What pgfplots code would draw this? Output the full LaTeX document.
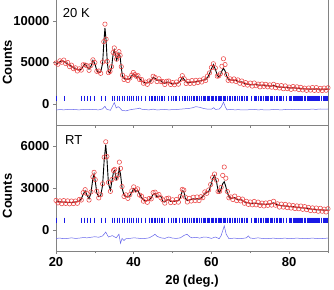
\documentclass[border=0pt]{standalone}
\usepackage{fontspec}
\setmainfont{Liberation Sans}
\usepackage{pgfplots}
\usepackage{pgfplotstable}
\pgfplotsset{compat=1.18}
\definecolor{obsred}{RGB}{235,70,70}
\definecolor{diffblue}{RGB}{100,100,235}
\definecolor{braggblue}{RGB}{25,25,230}
\definecolor{spine}{RGB}{130,130,130}

\pgfplotstableread{
x obs calc
20.0 4940 4780
20.5 4790 4930
21.0 5200 5100
21.5 5030 5200
22.0 5290 5150
22.5 4870 4980
23.0 5000 4820
23.5 4510 4660
24.0 4680 4520
24.5 4260 4400
25.0 4360 4260
25.5 3980 4150
26.0 4240 4100
26.5 4090 4200
27.0 4730 4550
27.5 4700 4850
28.0 4610 4450
28.5 4060 4200
29.0 4650 4550
29.5 5320 5250
30.0 4990 4850
30.5 3940 4050
31.0 3980 3800
31.5 3700 3850
32.0 5060 4900
32.3 7500 7300
32.6 9600 9150
32.9 7800 7600
33.2 5140 5000
33.5 3790 3900
33.9 3930 3750
34.3 4500 4400
34.7 6200 6000
35.0 6750 6500
35.3 6050 5900
35.6 5400 5300
35.9 5850 5700
36.2 6300 6150
36.5 5850 5700
36.8 4500 4400
37.1 3490 3350
37.5 2960 3100
38.0 3160 3000
38.5 2840 2980
39.0 3150 3050
39.5 3500 3400
39.9 3800 3650
40.3 3550 3450
40.7 3340 3200
41.1 3420 3300
41.5 2960 3100
42.0 2960 2800
42.5 2510 2650
43.0 2650 2550
43.5 2380 2550
44.0 2790 2650
44.5 2740 2850
45.0 3350 3200
45.5 3200 3100
46.0 2710 2850
46.5 3050 2900
47.0 2710 2850
47.5 2710 2550
48.0 2360 2500
48.5 2750 2650
49.0 2780 2650
49.5 2360 2500
50.0 2590 2450
50.5 2340 2450
51.0 2660 2480
51.5 2400 2550
52.0 2960 2800
52.5 3420 3250
53.0 3050 2950
53.5 2480 2650
54.0 2740 2600
54.5 2490 2600
55.0 2830 2650
55.5 2500 2650
56.0 2860 2700
56.5 2590 2730
57.0 2880 2780
57.5 2660 2830
58.0 3040 2900
58.5 2840 2950
59.0 3380 3200
59.5 3750 3650
60.0 4400 4250
60.5 4850 4750
61.0 4350 4200
61.5 3360 3500
61.9 3400 3250
62.3 3650 3500
62.7 4550 4000
63.1 5450 4300
63.5 4750 4000
63.9 3550 3400
64.3 2860 3000
64.8 3040 2900
65.3 2790 2900
65.8 3030 2850
66.3 2730 2880
66.8 2910 2750
67.3 2510 2650
67.8 2780 2680
68.3 2380 2550
68.8 2590 2450
69.3 2290 2400
70.0 2530 2350
70.5 2170 2320
71.0 2540 2380
71.5 2210 2350
72.0 2400 2300
72.5 2080 2250
73.0 2420 2280
73.5 2140 2250
74.0 2380 2200
74.5 2080 2230
75.0 2310 2150
75.5 2040 2180
76.0 2380 2280
76.5 1980 2150
77.0 2240 2100
77.5 1940 2050
78.0 2230 2050
78.5 1850 2000
79.0 2190 2030
79.5 1860 2000
80.0 2050 1950
80.5 1780 1950
81.0 2120 1980
81.5 1840 1950
82.0 2080 1900
82.5 1750 1900
83.0 2020 1860
83.5 1710 1850
84.0 1920 1820
84.5 1660 1830
85.0 1940 1800
85.5 1690 1800
86.0 2000 1820
86.5 1650 1800
87.0 1990 1830
87.5 1660 1800
88.0 1890 1790
88.5 1630 1800
89.0 1930 1790
89.5 1670 1780
90.0 1970 1790
}\lowdata

\pgfplotstableread{
x d
20 -700
21 -650
22 -680
23 -640
24 -620
25 -660
26 -680
27 -640
28 -660
29 -620
30 -660
31 -680
32 -560
32.6 -250
33 -600
34 -740
35 200
35.5 -450
36 -300
36.5 -480
37 -760
38 -800
39 -680
40 -600
41 -540
41.5 -480
42 -600
43 -660
44 -680
45 -600
46 -700
47 -660
48 -640
49 -680
50 -660
51 -640
52 -600
53 -560
54 -520
55 -450
56 -300
57 -380
58 -520
59 -600
60 -600
60.6 -420
61 -620
62 -600
62.5 -350
63.1 250
63.6 -350
64 -680
65 -640
66 -680
67 -660
68 -700
69 -680
70 -660
71 -640
72 -680
73 -660
74 -700
75 -680
76 -640
77 -660
78 -690
79 -640
80 -660
81 -630
82 -660
83 -620
84 -640
85 -620
86 -600
87 -620
88 -580
89 -600
90 -580
}\lowdiff

\pgfplotstableread{
x obs calc
20.0 2110 2000
20.5 1940 2030
21.0 2080 2010
21.5 1880 2000
22.0 2100 2000
22.5 1900 1980
23.0 2080 1960
23.5 1870 1970
24.0 2070 1960
24.5 1890 1980
25.0 2070 2000
25.5 1910 2030
26.0 2180 2080
26.5 2140 2220
27.0 2670 2550
27.5 2880 2800
28.0 2590 2480
28.5 2140 2230
29.0 2720 2650
29.5 3800 3700
29.8 4120 4000
30.1 3600 3500
30.5 2770 2650
31.0 2290 2380
31.5 2520 2450
32.0 3300 3200
32.4 5200 5000
32.8 6300 6100
33.1 5250 5100
33.5 3400 3300
34.0 2760 2850
34.4 3600 3500
34.8 4250 4150
35.1 4330 4250
35.5 3700 3600
35.9 3920 3800
36.3 4850 4380
36.6 4400 4000
37.0 3100 3000
37.5 2400 2500
38.0 2510 2400
38.5 2260 2350
39.0 2520 2450
39.5 2800 2700
40.0 3080 2960
40.5 2850 2750
41.0 2940 2840
41.5 2500 2580
42.0 2420 2300
42.5 2060 2150
43.0 2170 2100
43.5 1980 2100
44.0 2250 2150
44.5 2220 2300
45.0 2670 2550
45.5 2700 2600
46.0 2460 2350
46.5 2530 2420
47.0 2300 2400
47.5 2150 2050
48.0 1920 2000
48.5 2250 2150
49.0 2280 2180
49.5 1960 2050
50.0 2160 2050
50.5 1970 2050
51.0 2180 2080
51.5 1990 2100
52.0 2400 2300
52.5 2900 2800
52.9 2850 2750
53.3 2350 2250
53.8 2000 2100
54.3 2260 2150
54.8 2070 2180
55.3 2340 2230
55.8 2100 2200
56.3 2360 2250
56.8 2100 2200
57.3 2380 2280
57.8 2310 2400
58.3 2720 2600
58.8 2620 2700
59.3 2860 2750
59.8 3250 3150
60.3 3750 3650
60.8 4000 3900
61.3 3560 3450
61.7 2750 2850
62.1 2760 2650
62.5 3050 2950
62.9 3900 3300
63.3 4500 3450
63.7 3700 3100
64.1 2750 2650
64.5 2300 2400
65.0 2360 2250
65.5 2180 2280
66.0 2420 2320
66.5 2100 2200
67.0 2260 2150
67.5 2080 2180
68.0 2210 2100
68.5 1910 2000
69.0 2050 1970
69.5 1830 1950
70.0 2000 1900
70.5 1800 1880
71.0 2040 1920
71.5 1800 1900
72.0 1990 1880
72.5 1760 1850
73.0 1920 1850
73.5 1720 1840
74.0 1930 1830
74.5 1760 1840
75.0 1970 1850
75.5 1780 1880
76.0 2050 1940
76.5 1770 1860
77.0 1870 1800
77.5 1640 1760
78.0 1850 1750
78.5 1640 1720
79.0 1830 1710
79.5 1600 1700
80.0 1790 1680
80.5 1570 1660
81.0 1750 1680
81.5 1530 1650
82.0 1720 1620
82.5 1520 1600
83.0 1710 1590
83.5 1480 1580
84.0 1670 1560
84.5 1460 1550
85.0 1610 1540
85.5 1390 1510
86.0 1580 1480
86.5 1380 1460
87.0 1570 1450
87.5 1340 1440
88.0 1550 1440
88.5 1340 1430
89.0 1490 1420
89.5 1290 1410
90.0 1520 1420
}\rtdata

\pgfplotstableread{
x d
20 -600
21 -580
22 -620
23 -600
24 -560
25 -600
26 -580
27 -540
28 -560
29 -520
30 -480
31 -520
32 -420
32.8 -150
33.5 -500
34.5 -400
35.5 -560
36.2 -300
36.6 -950
37 -600
37.5 -750
38 -620
39 -600
40 -560
41 -580
42 -620
43 -600
44 -560
45 -400
45.5 -300
46 -450
47 -560
48 -600
49 -500
50 -580
51 -600
52 -560
53 -380
53.7 -300
54.5 -500
55 -560
56 -520
57 -580
58 -500
59 -520
60 -600
61 -500
62 -620
62.5 -400
63.3 300
63.8 -300
64.5 -620
65 -600
66 -580
67 -620
68 -600
69 -560
69.5 -420
70 -580
71 -600
72 -560
73 -600
74 -620
75 -600
76 -580
77 -620
78 -600
79 -580
80 -620
81 -600
82 -580
83 -600
84 -620
85 -600
86 -580
87 -600
88 -620
89 -600
90 -580
}\rtdiff

\pgfplotstableread{
x top rt
20.1 660 700
22.2 660 700
26.6 660 700
27.4 660 700
28.1 660 700
28.8 660 700
29.9 660 700
31.6 660 700
32.8 660 700
34.5 660 700
35.1 660 700
35.8 660 700
36.4 660 700
37.0 660 700
37.6 660 700
38.3 660 700
38.9 660 700
39.4 660 700
40.0 660 700
40.6 660 700
41.3 660 700
42.0 660 700
42.9 660 700
44.0 660 700
44.5 660 700
44.8 660 700
45.3 660 700
45.7 660 700
46.0 660 700
46.7 660 700
47.1 660 700
47.4 660 700
48.0 660 700
48.9 660 700
49.6 660 700
50.3 660 700
50.7 660 700
51.1 660 700
51.8 660 700
52.5 660 700
53.0 660 700
53.4 660 700
53.7 660 700
54.3 660 700
54.9 660 700
55.3 660 700
55.6 660 700
56.2 660 700
56.5 660 700
56.8 660 700
57.3 660 700
57.9 660 700
58.2 660 700
58.5 660 700
59.0 660 700
59.3 660 700
59.6 660 700
60.0 660 700
60.3 660 700
60.6 660 700
60.9 660 700
61.4 660 700
61.7 660 700
62.0 660 700
62.3 660 700
62.6 660 700
63.1 660 700
63.4 660 700
63.7 660 700
64.2 660 700
64.5 660 700
64.9 660 700
65.5 660 700
65.8 660 700
66.1 660 700
66.8 660 700
67.3 660 700
67.7 660 700
68.0 660 700
68.6 660 700
68.9 660 700
69.3 660 700
70.4 660 700
71.0 660 700
71.3 660 700
71.6 660 700
72.2 660 700
72.5 660 700
72.9 660 700
73.5 660 700
73.8 660 700
74.1 660 700
74.4 660 700
74.7 660 700
75.2 660 700
75.5 660 700
75.8 660 700
76.3 660 700
76.6 660 700
76.9 660 700
77.4 660 700
77.7 660 700
78.0 660 700
78.6 660 700
79.2 660 700
80.1 660 700
80.4 660 700
80.7 660 700
81.0 660 700
81.3 660 700
81.6 660 700
81.8 660 700
82.1 660 700
82.4 660 700
82.7 660 700
82.9 660 700
83.2 660 700
83.5 660 700
83.8 660 700
84.0 660 700
84.3 660 700
84.6 660 700
84.9 660 700
85.1 660 700
85.4 660 700
85.7 660 700
86.0 660 700
86.2 660 700
86.5 660 700
86.8 660 700
87.1 660 700
87.3 660 700
87.6 660 700
87.9 660 700
88.2 660 700
88.4 660 700
88.7 660 700
89.0 660 700
89.3 660 700
89.6 660 700
89.9 660 700
}\bragg

\pgfplotsset{
  panel/.style={
    scale only axis,
    width=272pt,
    xmin=20, xmax=90,
    axis line style={spine, line width=0.6pt},
    tick style={spine, line width=0.6pt},
    major tick length=3pt,
    minor tick length=2pt,
    scaled y ticks=false,
    ytick pos=left,
    tick align=outside,
    tick label style={font=\fontsize{13}{13}\selectfont\bfseries},
    /pgf/number format/assume math mode=true,
    /pgf/number format/1000 sep={},
  },
  obs/.style={only marks, mark=o, mark size=2.2pt, color=obsred, mark options={line width=0.55pt}},
  calc/.style={black, line width=0.9pt, mark=none},
  dif/.style={diffblue, line width=0.5pt, mark=none},
  brg/.style={only marks, mark=|, mark size=2.7pt, color=braggblue, mark options={line width=0.8pt}},
}

\begin{document}
\begin{tikzpicture}
\useasboundingbox (0,0) rectangle (334pt,289pt);
\begin{axis}[panel, name=ax1,
  at={(56pt,164pt)}, anchor=south west,
  height=125pt,
  ymin=-2500, ymax=12500,
  ytick={0,5000,10000},
  xtick={20,30,...,90}, xticklabels={},
  axis x line*=bottom, axis y line*=box,
  xtick pos=bottom,
]
\addplot[obs] table[x=x, y=obs] {\lowdata};
\addplot[calc] table[x=x, y=calc] {\lowdata};
\addplot[dif] table[x=x, y=d] {\lowdiff};
\addplot[brg] table[x=x, y=top] {\bragg};
\node[anchor=north west, inner sep=0pt, font=\fontsize{13}{13}\selectfont] at (rel axis cs:0.025,0.936) {20 K};
\end{axis}
\begin{axis}[panel, name=ax2,
  at={(56pt,38pt)}, anchor=south west,
  height=126pt,
  ymin=-1500, ymax=7500,
  ytick={0,3000,6000},
  xtick={20,40,60,80}, minor xtick={30,50,70,90},
  xtick pos=bottom,
  xlabel={2θ (deg.)},
  xlabel style={font=\fontsize{13}{13}\selectfont\bfseries, yshift=-1pt},
]
\addplot[obs] table[x=x, y=obs] {\rtdata};
\addplot[calc] table[x=x, y=calc] {\rtdata};
\addplot[dif] table[x=x, y=d] {\rtdiff};
\addplot[brg] table[x=x, y=rt] {\bragg};
\node[anchor=north west, inner sep=0pt, font=\fontsize{13}{13}\selectfont] at (rel axis cs:0.033,0.92) {RT};
\end{axis}
\node[rotate=90, anchor=center, inner sep=0pt, font=\fontsize{13}{13}\selectfont\bfseries] at ([xshift=-48.5pt]ax1.west) {Counts};
\node[rotate=90, anchor=center, inner sep=0pt, font=\fontsize{13}{13}\selectfont\bfseries] at ([xshift=-48.5pt, yshift=-8pt]ax2.west) {Counts};
\end{tikzpicture}
\end{document}
